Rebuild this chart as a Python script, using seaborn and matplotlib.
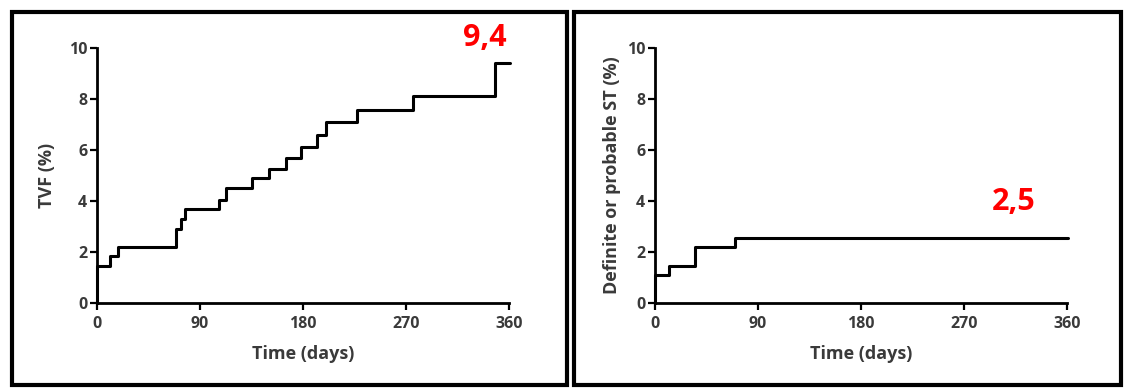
import matplotlib
matplotlib.use('Agg')
import matplotlib.pyplot as plt
import seaborn as sns
import pandas as pd
from matplotlib.patches import Rectangle

# Cumulative incidence (days, %)
tvf_days = [0, 0, 11, 18, 69, 73, 77, 107, 113, 135, 150, 165, 178, 192, 200, 227, 276, 348, 361]
tvf_pct = [0, 1.45, 1.85, 2.2, 2.9, 3.3, 3.7, 4.05, 4.5, 4.9, 5.25, 5.7, 6.1, 6.6, 7.1, 7.55, 8.1, 9.4, 9.4]

st_days = [0, 0, 12, 35, 70, 361]
st_pct = [0, 1.1, 1.45, 2.2, 2.55, 2.55]

x_ticks = [0, 90, 180, 270, 360]
y_ticks = [0, 2, 4, 6, 8, 10]

panels = [
    {'days': tvf_days, 'pct': tvf_pct, 'ylabel': 'TVF (%)', 'ypad': 9,
     'final': '9,4', 'final_pos': (339, 10.4)},
    {'days': st_days, 'pct': st_pct, 'ylabel': 'Definite or probable ST (%)', 'ypad': 4,
     'final': '2,5', 'final_pos': (313, 3.95)},
]

sns.set_style('ticks')
plt.rcParams['font.family'] = ['Open Sans', 'DejaVu Sans']

W, H = 1124, 390
fig = plt.figure(figsize=(W / 100, H / 100), dpi=100)

axes_left_px = [97, 655]
text_col = '#3a3a3a'

for panel, left_px in zip(panels, axes_left_px):
    ax = fig.add_axes([left_px / W, 1 - 303 / H, 412 / W, 255 / H])
    df = pd.DataFrame({'Time (days)': panel['days'], 'pct': panel['pct']})
    sns.lineplot(data=df, x='Time (days)', y='pct', ax=ax, estimator=None, sort=False,
                 drawstyle='steps-post', color='black', linewidth=2.2, clip_on=False)
    ax.set_xlim(0, 360)
    ax.set_ylim(0, 10)
    ax.set_xticks(x_ticks)
    ax.set_yticks(y_ticks)
    sns.despine(ax=ax)
    for s in ['left', 'bottom']:
        ax.spines[s].set_linewidth(2)
        ax.spines[s].set_color('black')
    ax.tick_params(axis='both', length=5, width=1.6, colors='black', labelcolor=text_col,
                   labelsize=11.5, pad=2)
    ax.tick_params(axis='x', pad=4)
    for lab in ax.get_xticklabels() + ax.get_yticklabels():
        lab.set_fontweight('bold')
    ax.set_xlabel('Time (days)', fontsize=13, fontweight='bold', color=text_col, labelpad=10)
    ax.set_ylabel(panel['ylabel'], fontsize=13, fontweight='bold', color=text_col,
                  labelpad=panel['ypad'])
    fx, fy = panel['final_pos']
    ax.text(fx, fy, panel['final'], color='#ff0000', fontsize=22, fontweight='bold',
            ha='center', va='center', clip_on=False)

# panel frames
fig.patches.append(Rectangle((12 / W, 5 / H), 555 / W, 373 / H, transform=fig.transFigure,
                             fill=False, edgecolor='black', linewidth=3))
fig.patches.append(Rectangle((574 / W, 5 / H), 547 / W, 373 / H, transform=fig.transFigure,
                             fill=False, edgecolor='black', linewidth=3))

fig.savefig('out.png', dpi=100, facecolor='white')
